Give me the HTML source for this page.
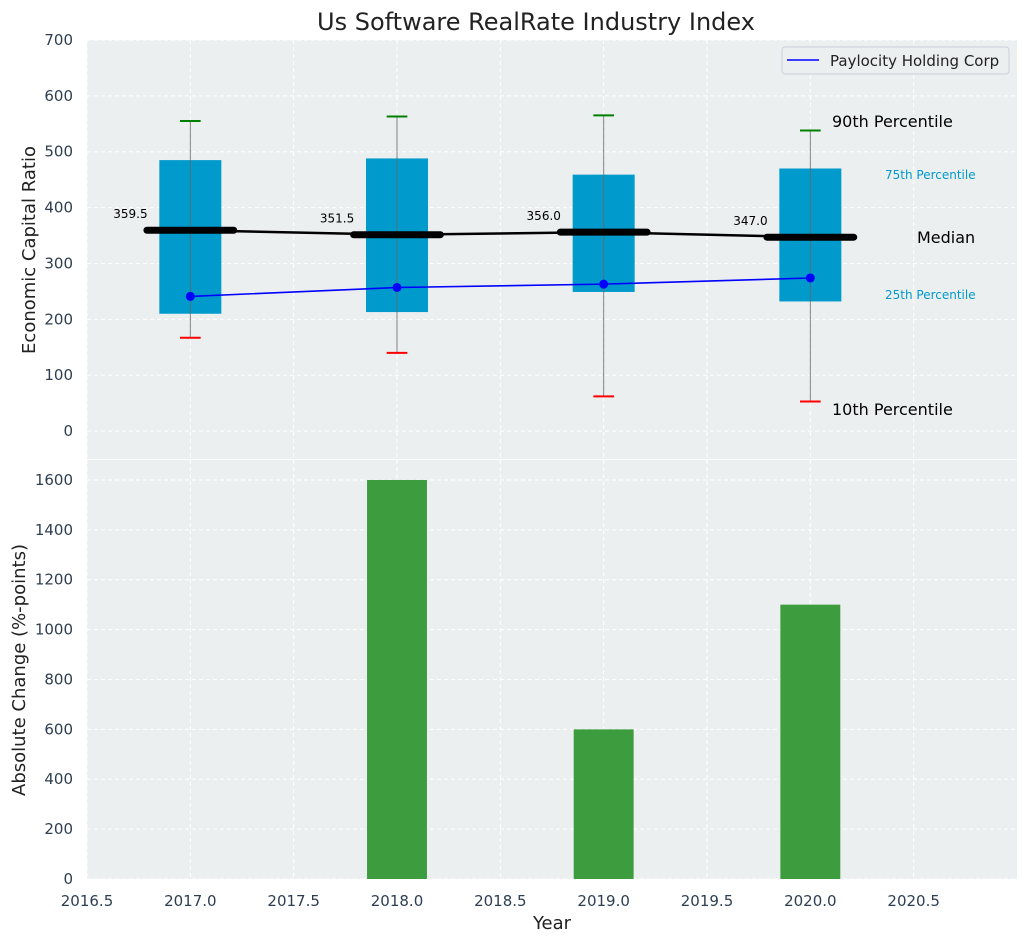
<!DOCTYPE html>
<html><head><meta charset="utf-8"><style>
body{margin:0;background:#fff;}
svg{display:block;font-family:"DejaVu Sans","Liberation Sans",sans-serif;}
</style></head><body>
<svg id="c" width="1026" height="942" xmlns="http://www.w3.org/2000/svg"></svg>
<script>
const years=[2017,2018,2019,2020];
const p10=[167,140,62,53];
const q1=[210,213,249,232];
const med=[359.5,351.5,356.0,347.0];
const q3=[485,488,459,470];
const p90=[555,563,565,538];
const company=[241,257,263,274];
const changes=[0,1600,600,1100];
const xTicks=[2016.5,2017.0,2017.5,2018.0,2018.5,2019.0,2019.5,2020.0,2020.5];
const yTopTicks=[0,100,200,300,400,500,600,700];
const yBotTicks=[0,200,400,600,800,1000,1200,1400,1600];

const NS="http://www.w3.org/2000/svg";
const svg=document.getElementById('c');
const L=87,R=1017;
const X=v=>L+(v-2016.5)/(2021-2016.5)*(R-L);
const T0=40,T1=459,B0=460,B1=879;
const YT=v=>T1-(v+50)/750*(T1-T0);
const YB=v=>B1-v/1680*(B1-B0);
function el(t,a,txt){const e=document.createElementNS(NS,t);for(const k in a)e.setAttribute(k,a[k]);if(txt!==undefined)e.textContent=txt;svg.appendChild(e);return e;}

let e;
e=el('rect',{x:L,y:T0,width:R-L,height:T1-T0,fill:'#eceff0'});


e=el('rect',{x:L,y:B0,width:R-L,height:B1-B0,fill:'#eceff0'});


xTicks.forEach(t=>{
 e=el('line',{x1:X(t),x2:X(t),y1:T0,y2:T1,stroke:'#fff','stroke-dasharray':'4,3','stroke-width':1});
 
 
 e=el('line',{x1:X(t),x2:X(t),y1:B0,y2:B1,stroke:'#fff','stroke-dasharray':'4,3','stroke-width':1});
 
 
 e=el('text',{x:X(t),y:906,'text-anchor':'middle','font-size':15,fill:'#2e3e50'},t.toFixed(1));
 
 
});
yTopTicks.forEach(t=>{
 e=el('line',{x1:L,x2:R,y1:YT(t),y2:YT(t),stroke:'#fff','stroke-dasharray':'4,3'});
 
 
 e=el('text',{x:73,y:YT(t)+5,'text-anchor':'end','font-size':15,fill:'#2e3e50'},t);
 
 
});
yBotTicks.forEach(t=>{
 e=el('line',{x1:L,x2:R,y1:YB(t),y2:YB(t),stroke:'#fff','stroke-dasharray':'4,3'});
 
 
 e=el('text',{x:73,y:YB(t)+5,'text-anchor':'end','font-size':15,fill:'#2e3e50'},t);
 
 
});
years.forEach((y,i)=>{
 e=el('rect',{x:X(y-0.15),y:YT(q3[i]),width:X(y+0.15)-X(y-0.15),height:YT(q1[i])-YT(q3[i]),fill:'#009acd'});
 
 
 e=el('line',{x1:X(y),x2:X(y),y1:YT(p90[i]),y2:YT(p10[i]),stroke:'#666','stroke-width':1,opacity:0.8});
 
 
 e=el('line',{x1:X(y-0.05),x2:X(y+0.05),y1:YT(p90[i]),y2:YT(p90[i]),stroke:'green','stroke-width':2});
 
 
 e=el('line',{x1:X(y-0.05),x2:X(y+0.05),y1:YT(p10[i]),y2:YT(p10[i]),stroke:'red','stroke-width':2});
 
 
 e=el('line',{x1:X(y-0.21),x2:X(y+0.21),y1:YT(med[i]),y2:YT(med[i]),stroke:'#000','stroke-width':7,'stroke-linecap':'round'});
 
 
 e=el('text',{x:X(y-0.29),y:YT(med[i])-12,'text-anchor':'middle','font-size':12,fill:'#000'},med[i].toFixed(1));
 
 
});
e=el('polyline',{points:years.map((y,i)=>X(y)+','+YT(med[i])).join(' '),fill:'none',stroke:'#000','stroke-width':2.5});


e=el('polyline',{points:years.map((y,i)=>X(y)+','+YT(company[i])).join(' '),fill:'none',stroke:'blue','stroke-width':1.6});


years.forEach((y,i)=>{
 e=el('circle',{cx:X(y),cy:YT(company[i]),r:4.5,fill:'blue'});
 
 
});
e=el('text',{x:832,y:127,'font-size':16,fill:'#000'},'90th Percentile');


e=el('text',{x:885,y:179,'font-size':12,fill:'#009acd'},'75th Percentile');


e=el('text',{x:917,y:243,'font-size':16,fill:'#000'},'Median');


e=el('text',{x:885,y:299,'font-size':12,fill:'#009acd'},'25th Percentile');


e=el('text',{x:832,y:415,'font-size':16,fill:'#000'},'10th Percentile');


e=el('rect',{x:782,y:47,width:227,height:27,rx:3,fill:'#eceff0',stroke:'#ccd','stroke-width':1});


e=el('line',{x1:787,x2:819,y1:60,y2:60,stroke:'blue','stroke-width':1.6});


e=el('text',{x:830,y:66,'font-size':15,fill:'#222'},'Paylocity Holding Corp');


years.forEach((y,i)=>{
 e=el('rect',{x:X(y-0.145),y:YB(changes[i]),width:X(y+0.145)-X(y-0.145),height:YB(0)-YB(changes[i]),fill:'#3d9c3d'});
 
 
});
e=el('text',{x:536,y:30,'text-anchor':'middle','font-size':24,fill:'#222'},'Us Software RealRate Industry Index');


e=el('text',{x:552,y:929,'text-anchor':'middle','font-size':18,fill:'#222'},'Year');


e=el('text',{x:35,y:250,'text-anchor':'middle','font-size':18,fill:'#222',transform:'rotate(-90 35 250)'},'Economic Capital Ratio');


e=el('text',{x:25,y:670,'text-anchor':'middle','font-size':18,fill:'#222',transform:'rotate(-90 25 670)'},'Absolute Change (%-points)');


</script>
</body></html>
